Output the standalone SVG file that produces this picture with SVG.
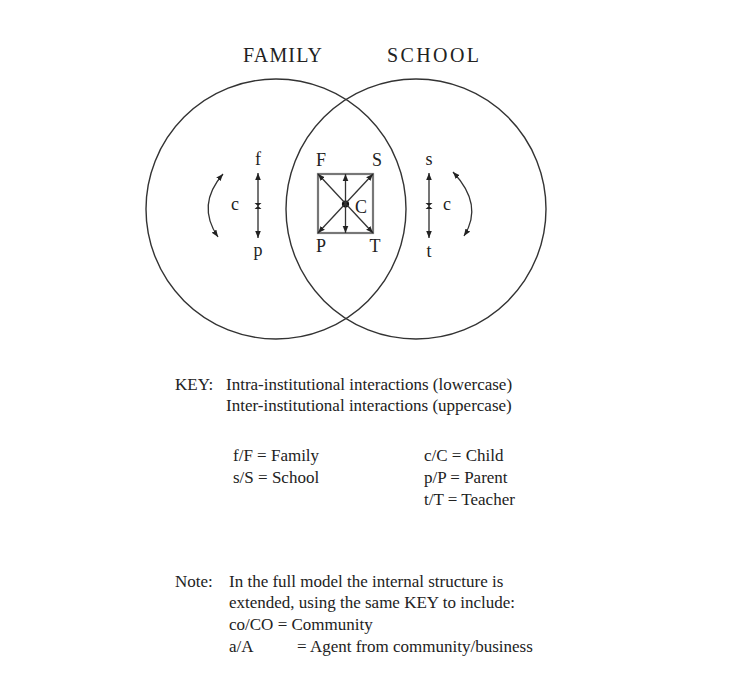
<svg xmlns="http://www.w3.org/2000/svg" width="737" height="698" viewBox="0 0 737 698">
<style>
  .t { font-family: "Liberation Serif", "Times New Roman", serif; fill: #222; }
  .lbl { font-size: 18px; }
  .body { font-size: 17px; }
  .title { font-size: 20px; }
  .ring { fill: none; stroke: #333; stroke-width: 1.4; }
  .edge { stroke: #777; stroke-width: 2.2; fill: none; }
  .arr { stroke: #333; stroke-width: 1.3; fill: none; marker-start: url(#ah); marker-end: url(#ah); }
  .varr { stroke: #666; stroke-width: 1.8; fill: none; marker-start: url(#ah); marker-end: url(#ah); }
</style>
<defs>
  <marker id="ah" viewBox="0 0 10 10" refX="10" refY="5" markerUnits="userSpaceOnUse" markerWidth="7" markerHeight="7" orient="auto-start-reverse">
    <path d="M0,1 L10,5 L0,9 z" fill="#222"/>
  </marker>
</defs>
<rect width="737" height="698" fill="#fff"/>

<g id="family">
  <circle class="ring" cx="276" cy="209" r="130"/>
  <text class="t title" x="243" y="62" textLength="79" lengthAdjust="spacing">FAMILY</text>
</g>
<g id="school">
  <circle class="ring" cx="416" cy="209" r="130"/>
  <text class="t title" x="387" y="62" textLength="92" lengthAdjust="spacing">SCHOOL</text>
</g>

<g id="node-f"><text class="t lbl" x="258" y="165" text-anchor="middle">f</text></g>
<g id="node-p"><text class="t lbl" x="258" y="256" text-anchor="middle">p</text></g>
<g id="node-c-left"><text class="t lbl" x="235" y="210" text-anchor="middle">c</text></g>
<g id="node-s"><text class="t lbl" x="429" y="165" text-anchor="middle">s</text></g>
<g id="node-t"><text class="t lbl" x="429" y="257" text-anchor="middle">t</text></g>
<g id="node-c-right"><text class="t lbl" x="447" y="210" text-anchor="middle">c</text></g>
<g id="node-F"><text class="t lbl" x="321" y="166" text-anchor="middle">F</text></g>
<g id="node-S"><text class="t lbl" x="377" y="166" text-anchor="middle">S</text></g>
<g id="node-P"><text class="t lbl" x="321" y="252" text-anchor="middle">P</text></g>
<g id="node-T"><text class="t lbl" x="375" y="252" text-anchor="middle">T</text></g>
<g id="node-C">
  <circle cx="345.5" cy="204" r="3.6" fill="#111"/>
  <text class="t lbl" x="355" y="213">C</text>
</g>

<g id="connectors">
  <rect class="edge" x="318" y="174" width="55" height="59"/>
  <line class="arr" x1="318" y1="174" x2="373" y2="233"/>
  <line class="arr" x1="373" y1="174" x2="318" y2="233"/>
  <line class="arr" x1="345.5" y1="174" x2="345.5" y2="233"/>
  <line class="varr" x1="258" y1="173" x2="258" y2="238"/>
  <path d="M254.5,203 H261.5 L254.5,209 H261.5 Z" fill="#222"/>
  <path class="arr" d="M223,174 Q196,205 218,237"/>
  <line class="varr" x1="429" y1="173" x2="429" y2="238"/>
  <path d="M425.5,203 H432.5 L425.5,209 H432.5 Z" fill="#222"/>
  <path class="arr" d="M453,172 Q484,205 464,236"/>
</g>

<g id="key">
  <text class="t body" x="175" y="390">KEY:</text>
  <text class="t body" x="226" y="390">Intra-institutional interactions (lowercase)</text>
  <text class="t body" x="226" y="411">Inter-institutional interactions (uppercase)</text>
  <text class="t body" x="233" y="461">f/F = Family</text>
  <text class="t body" x="233" y="483">s/S = School</text>
  <text class="t body" x="424" y="461">c/C = Child</text>
  <text class="t body" x="424" y="483">p/P = Parent</text>
  <text class="t body" x="424" y="505">t/T = Teacher</text>
</g>

<g id="note">
  <text class="t body" x="175" y="587">Note:</text>
  <text class="t body" x="229" y="587">In the full model the internal structure is</text>
  <text class="t body" x="229" y="608">extended, using the same KEY to include:</text>
  <text class="t body" x="229" y="630">co/CO = Community</text>
  <text class="t body" x="229" y="652">a/A</text>
  <text class="t body" x="297" y="652">= Agent from community/business</text>
</g>
</svg>
